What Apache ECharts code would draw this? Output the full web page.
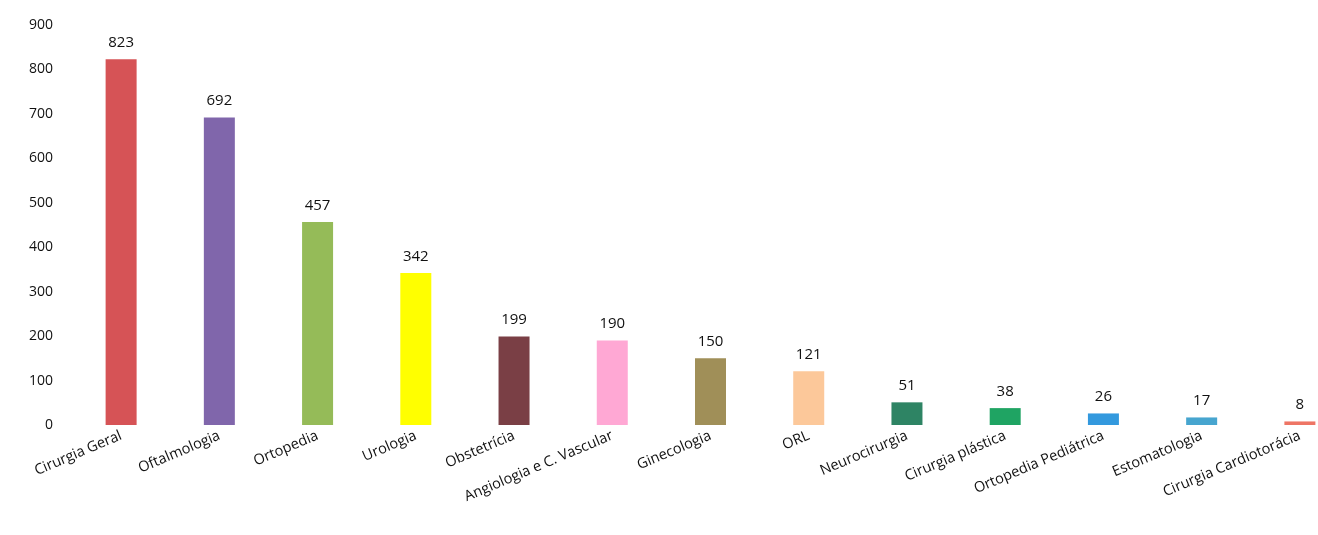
<!DOCTYPE html>
<html>
<head>
<meta charset="utf-8">
<script src="https://cdn.jsdelivr.net/npm/echarts@6/dist/echarts.min.js"></script>
<style>
  html, body { margin: 0; padding: 0; background: #ffffff; overflow: hidden; }
  /* a bit wider than the window: the last bar is cut at the right edge */
  #chart { width: 1349px; height: 535px; }
</style>
</head>
<body>
<div id="chart"></div>
<script>
// especialidades
const categories = [
  'Cirurgia Geral', 'Oftalmologia', 'Ortopedia', 'Urologia', 'Obstetrícia',
  'Angiologia e C. Vascular', 'Ginecologia', 'ORL', 'Neurocirurgia',
  'Cirurgia plástica', 'Ortopedia Pediátrica', 'Estomatologia', 'Cirurgia Cardiotorácia'
];
const values = [823, 692, 457, 342, 199, 190, 150, 121, 51, 38, 26, 17, 8];
const barColors = [
  '#d65356', '#8066ab', '#95bb58', '#ffff00', '#7a3f45', '#ffa8d4', '#a08f58',
  '#fcc89a', '#2e8464', '#1fa463', '#3399de', '#47a5cf', '#ee7565'
];

const myChart = echarts.init(document.querySelector('#chart'));

const option = {
  backgroundColor: '#ffffff',
  animation: false,
  grid: {
    left: 72,
    right: 0,
    top: 25,
    bottom: 110,
  },
  xAxis: {
    type: 'category',
    data: categories,
    axisTick: { show: false },
    axisLine: { show: false },
    axisLabel: {
      rotate: 23,
      interval: 0,
      margin: 10,
      fontSize: 14.5,
      fontFamily: 'Open Sans',
      color: '#111111',
    },
  },
  yAxis: {
    type: 'value',
    min: 0,
    max: 900,
    interval: 100,
    axisTick: { show: false },
    axisLine: { show: false },
    splitLine: { show: false },
    axisLabel: {
      margin: 19,
      fontSize: 14,
      fontFamily: 'Open Sans',
      color: '#111111',
    },
  },
  series: [
    {
      type: 'bar',
      barWidth: 31,
      data: values.map((v, i) => ({ value: v, itemStyle: { color: barColors[i] } })),
      label: {
        show: true,
        position: 'top',
        distance: 9,
        fontSize: 15,
        fontFamily: 'Open Sans',
        color: '#111111',
      },
    },
  ],
};

myChart.setOption(option);
</script>
</body>
</html>
